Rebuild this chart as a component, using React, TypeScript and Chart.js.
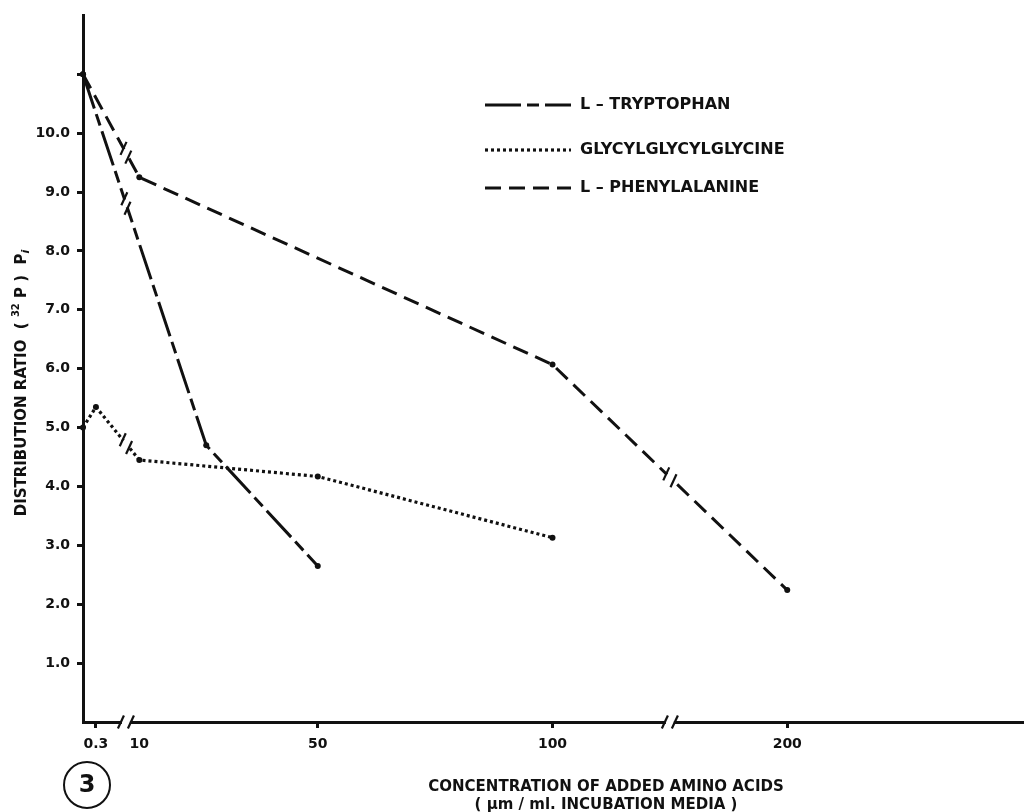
import React, { useEffect, useRef } from 'react';
import { Chart, LineController, LineElement, PointElement, LinearScale } from 'chart.js';

// ---------- data ----------
const SERIES_LABELS = ['L – TRYPTOPHAN', 'GLYCYLGLYCYLGLYCINE', 'L – PHENYLALANINE'];

const TRP_X = [0, 25, 50];
const TRP_Y = [11.0, 4.7, 2.65];

const GLY_X = [0, 0.3, 10, 50, 100];
const GLY_Y = [5.0, 5.35, 4.45, 4.17, 3.13];

const PHE_X = [0, 10, 100, 200];
const PHE_Y = [11.0, 9.25, 6.07, 2.24];

const X_TICK_VALUES = [0.3, 10, 50, 100, 200];
const X_TICK_LABELS = ['0.3', '10', '50', '100', '200'];
const X_HIDDEN_TICK_MARKS = [10];
const X_AXIS_BREAKS = [7, 150];

// broken (non-uniform) axis: concentration anchors and their axis units
const X_SCALE_VALUES = [0, 0.3, 10, 50, 100, 200, 300];
const X_SCALE_UNITS = [0, 0.055, 0.24, 1, 2, 3, 4];

const Y_MIN = 0;
const Y_MAX = 12;
const Y_LABELLED = [1, 2, 3, 4, 5, 6, 7, 8, 9, 10];

const X_TITLE = ['CONCENTRATION OF ADDED AMINO ACIDS', '( µm / ml. INCUBATION MEDIA )'];
const FIGURE_NUMBER = '3';

// ---------- broken-axis scale ----------
function interp(v: number, from: number[], to: number[]) {
  if (v <= from[0]) return to[0] + (v - from[0]) * (to[1] - to[0]) / (from[1] - from[0]);
  for (let i = 1; i < from.length; i++) {
    if (v <= from[i]) {
      const t = (v - from[i - 1]) / (from[i] - from[i - 1]);
      return to[i - 1] + t * (to[i] - to[i - 1]);
    }
  }
  const n = from.length - 1;
  return to[n] + (v - from[n]) * (to[n] - to[n - 1]) / (from[n] - from[n - 1]);
}
const toUnit = (v: number) => interp(v, X_SCALE_VALUES, X_SCALE_UNITS);
const fromUnit = (u: number) => interp(u, X_SCALE_UNITS, X_SCALE_VALUES);

class BrokenAxisScale extends LinearScale {
  static id = 'brokenAxis';
  determineDataLimits() {
    (this as any).min = X_SCALE_VALUES[0];
    (this as any).max = X_SCALE_VALUES[X_SCALE_VALUES.length - 1];
  }
  buildTicks() {
    return X_TICK_VALUES.map((value) => ({ value })) as any;
  }
  getPixelForValue(value: number) {
    if (value === null || value === undefined || isNaN(value)) return NaN;
    const maxU = toUnit((this as any).max);
    return this.getPixelForDecimal(toUnit(value) / maxU);
  }
  getValueForPixel(pixel: number) {
    const maxU = toUnit((this as any).max);
    return fromUnit(this.getDecimalForPixel(pixel) * maxU);
  }
}

Chart.register(LineController, LineElement, PointElement, LinearScale, BrokenAxisScale as any);

const FONT = "'DejaVu Sans', 'Liberation Sans', sans-serif";
const INK = '#111';

function pts(xs: number[], ys: number[]) {
  return xs.map((x, i) => ({ x, y: ys[i] }));
}

// ---------- decoration plugin ----------
const decorPlugin = {
  id: 'decor',
  afterDraw(chart: any) {
    const ctx = chart.ctx as CanvasRenderingContext2D;
    const xs = chart.scales.x;
    const area = chart.chartArea;
    ctx.save();
    ctx.strokeStyle = INK;
    ctx.fillStyle = INK;
    ctx.lineCap = 'butt';

    const slash = (cx: number, cy: number) => {
      ctx.beginPath();
      ctx.moveTo(cx - 3, cy + 6.5);
      ctx.lineTo(cx + 3, cy - 6.5);
      ctx.stroke();
    };

    // axis breaks
    const axisY = area.bottom;
    X_AXIS_BREAKS.forEach((b) => {
      const px = xs.getPixelForValue(b);
      ctx.save();
      ctx.strokeStyle = '#fff';
      ctx.lineWidth = 6;
      ctx.beginPath();
      ctx.moveTo(px - 4, axisY);
      ctx.lineTo(px + 4, axisY);
      ctx.stroke();
      ctx.restore();
      ctx.lineWidth = 2.2;
      slash(px - 5, axisY);
      slash(px + 5, axisY);
    });

    // line breaks where a series crosses an axis break
    chart.data.datasets.forEach((ds: any, di: number) => {
      const meta = chart.getDatasetMeta(di);
      const els = meta.data;
      for (let i = 1; i < els.length; i++) {
        const a = els[i - 1];
        const b = els[i];
        const va = ds.data[i - 1].x;
        const vb = ds.data[i].x;
        X_AXIS_BREAKS.forEach((br) => {
          if (va < br && vb > br) {
            const px = xs.getPixelForValue(br);
            const t = (px - a.x) / (b.x - a.x);
            const py = a.y + t * (b.y - a.y);
            const len = Math.hypot(b.x - a.x, b.y - a.y);
            const dx = (b.x - a.x) / len;
            const dy = (b.y - a.y) / len;
            ctx.save();
            ctx.strokeStyle = '#fff';
            ctx.lineWidth = 7;
            ctx.beginPath();
            ctx.moveTo(px - dx * 4, py - dy * 4);
            ctx.lineTo(px + dx * 4, py + dy * 4);
            ctx.stroke();
            ctx.restore();
            ctx.lineWidth = 2.2;
            ctx.setLineDash([]);
            slash(px - dx * 5, py - dy * 5);
            slash(px + dx * 5, py + dy * 5);
          }
        });
      }
    });

    // legend
    const rows = [105, 150, 188];
    chart.data.datasets.forEach((ds: any, di: number) => {
      const y = rows[di];
      ctx.save();
      ctx.lineWidth = ds.borderWidth;
      ctx.setLineDash(ds.borderDash || []);
      ctx.beginPath();
      ctx.moveTo(485, y);
      ctx.lineTo(571, y);
      ctx.stroke();
      ctx.restore();
      ctx.font = `bold 16px ${FONT}`;
      ctx.textBaseline = 'middle';
      ctx.textAlign = 'left';
      ctx.fillText(ds.label, 580, y);
    });

    // x axis title
    ctx.textAlign = 'center';
    ctx.textBaseline = 'middle';
    ctx.font = `bold 15px ${FONT}`;
    ctx.fillText(X_TITLE[0], 606, 787);
    ctx.fillText(X_TITLE[1], 606, 805);

    // y axis title (rotated, with superscript and subscript)
    ctx.save();
    ctx.translate(22, 383);
    ctx.rotate(-Math.PI / 2);
    const parts = [
      { t: 'DISTRIBUTION RATIO  ( ', f: `bold 15px ${FONT}`, dy: 0 },
      { t: '32', f: `bold 10px ${FONT}`, dy: -6 },
      { t: ' P )  P', f: `bold 15px ${FONT}`, dy: 0 },
      { t: 'i', f: `italic bold 11px ${FONT}`, dy: 4 },
    ];
    let total = 0;
    parts.forEach((p) => { ctx.font = p.f; total += ctx.measureText(p.t).width; });
    let cx = -total / 2;
    ctx.textAlign = 'left';
    parts.forEach((p) => {
      ctx.font = p.f;
      ctx.fillText(p.t, cx, p.dy);
      cx += ctx.measureText(p.t).width;
    });
    ctx.restore();

    // figure number in a circle
    ctx.lineWidth = 2;
    ctx.beginPath();
    ctx.arc(87, 785, 23, 0, Math.PI * 2);
    ctx.stroke();
    ctx.font = `bold 24px ${FONT}`;
    ctx.textAlign = 'center';
    ctx.textBaseline = 'middle';
    ctx.fillText(FIGURE_NUMBER, 87, 786);

    ctx.restore();
  },
};

export default function App() {
  const ref = useRef<HTMLCanvasElement | null>(null);

  useEffect(() => {
    document.body.style.margin = '0';
    document.body.style.background = '#fff';
    const canvas = ref.current;
    if (!canvas) return;

    const chart = new Chart(canvas, {
      type: 'line',
      data: {
        datasets: [
          {
            label: SERIES_LABELS[0],
            data: pts(TRP_X, TRP_Y),
            borderColor: INK,
            backgroundColor: INK,
            borderWidth: 3,
            borderDash: [36, 6, 12, 6],
            pointRadius: 3,
            pointBorderWidth: 0,
            pointBackgroundColor: INK,
            tension: 0,
          },
          {
            label: SERIES_LABELS[1],
            data: pts(GLY_X, GLY_Y),
            borderColor: INK,
            backgroundColor: INK,
            borderWidth: 3.2,
            borderDash: [3, 3],
            pointRadius: 3,
            pointBorderWidth: 0,
            pointBackgroundColor: INK,
            tension: 0,
          },
          {
            label: SERIES_LABELS[2],
            data: pts(PHE_X, PHE_Y),
            borderColor: INK,
            backgroundColor: INK,
            borderWidth: 3,
            borderDash: [16, 8],
            pointRadius: 3,
            pointBorderWidth: 0,
            pointBackgroundColor: INK,
            tension: 0,
          },
        ],
      },
      options: {
        responsive: false,
        animation: false,
        devicePixelRatio: 1,
        layout: { padding: { top: 12, left: 0, right: 0, bottom: 0 } },
        plugins: {
          legend: { display: false },
          tooltip: { enabled: false },
          title: { display: false },
        },
        scales: {
          x: {
            type: 'brokenAxis' as any,
            position: 'bottom',
            afterFit: (s: any) => { s.height = 90; },
            border: { display: true, color: INK, width: 3 },
            grid: {
              drawOnChartArea: false,
              drawTicks: true,
              tickLength: 6,
              lineWidth: 3,
              color: (c: any) => (c.tick && X_HIDDEN_TICK_MARKS.includes(c.tick.value) ? 'rgba(0,0,0,0)' : INK),
            },
            ticks: {
              autoSkip: false,
              maxRotation: 0,
              padding: 8,
              color: INK,
              font: { family: FONT, size: 14, weight: 'bold' },
              callback: (v: any) => X_TICK_LABELS[X_TICK_VALUES.indexOf(Number(v))] ?? '',
            },
          } as any,
          y: {
            type: 'linear',
            min: Y_MIN,
            max: Y_MAX,
            afterFit: (s: any) => { s.width = 83; },
            border: { display: true, color: INK, width: 3 },
            grid: {
              drawOnChartArea: false,
              drawTicks: true,
              tickLength: 6,
              lineWidth: 3,
              color: (c: any) => (c.tick && (c.tick.value <= Y_MIN || c.tick.value >= Y_MAX) ? 'rgba(0,0,0,0)' : INK),
            },
            ticks: {
              stepSize: 1,
              padding: 7,
              color: INK,
              font: { family: FONT, size: 14, weight: 'bold' },
              callback: (v: any) => (Y_LABELLED.includes(Number(v)) ? Number(v).toFixed(1) : ''),
            },
          },
        },
      },
      plugins: [decorPlugin],
    } as any);

    return () => chart.destroy();
  }, []);

  return (
    <div style={{ width: 1026, height: 812, background: '#fff' }}>
      <canvas ref={ref} width={1026} height={812} style={{ display: 'block', width: 1026, height: 812 }} />
    </div>
  );
}
